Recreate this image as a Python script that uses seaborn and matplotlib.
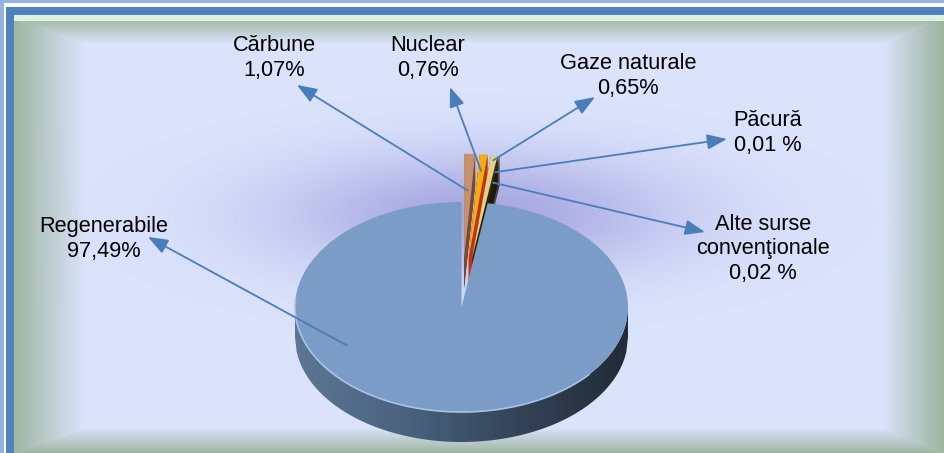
import numpy as np
import matplotlib
matplotlib.use('Agg')
import matplotlib.pyplot as plt
import seaborn as sns
from matplotlib.patches import Polygon

# data
categories = ['Cărbune', 'Nuclear', 'Gaze naturale', 'Păcură',
              'Alte surse\nconvenţionale', 'Regenerabile']
shares = [1.07, 0.76, 0.65, 0.01, 0.02, 97.49]
share_labels = ['1,07%', '0,76%', '0,65%', '0,01 %', '0,02 %', '97,49%']

top_colors = ['#c4906e', '#f2b010', '#e2d088', '#5a4c1c', '#4a4018', '#7a9cc6']
side_colors = ['#7a4a30', '#c8300c', '#2c2610', '#201a08', '#201a08', 'none']
explode = [0.46, 0.46, 0.46, 0.46, 0.46, 0]

sns.set_theme(style='white')
plt.rcParams['font.family'] = ['Liberation Sans', 'DejaVu Sans']

W, H = 945, 453
fig = plt.figure(figsize=(9.45, 4.53), dpi=100)
ax = fig.add_axes([0, 0, 1, 1])

# pie ellipse in pixels: centre and radii, 1 data unit = rx / ry pixels
cx, cy, rx, ry = 461.5, 307, 166.5, 105
x0, x1 = -cx / rx, (W - cx) / rx
y0, y1 = -(H - cy) / ry, cy / ry
depth = 30 / ry


def px(x, y):
    return ((x - cx) / rx, (cy - y) / ry)


# background: frame, bevel and purple glow
yy, xx = np.mgrid[0:H, 0:W] + 0.5
base = np.array([220, 228, 252]) / 255
glow_c = np.array([160, 160, 222]) / 255
edge_c = np.array([158, 182, 162]) / 255
img = np.ones((H, W, 3)) * base
g = np.exp(-((xx - 478) / 200) ** 2 - ((yy - 215) / 62) ** 2)[..., None] * 0.9
img = img * (1 - g) + glow_c * g
t = np.minimum.reduce([np.clip((xx - 14) / 72, 0, 1),
                       np.clip((W - 3 - xx) / 60, 0, 1),
                       np.clip((yy - 18) / 26, 0, 1),
                       np.clip((H - yy) / 26, 0, 1)])[..., None]
img = edge_c * (1 - t) + img * t
img[15:21, 14:] = np.array([222, 242, 226]) / 255
img[:, :14] = np.array([79, 129, 189]) / 255
img[:15, :] = np.array([79, 129, 189]) / 255
img[:, :4] = np.array([148, 180, 224]) / 255
img[:3, :] = np.array([148, 180, 224]) / 255
img[3:7, 4:] = 1.0
img[3:, 4:6] = 1.0
ax.imshow(img, extent=(x0, x1, y0, y1), aspect='auto', zorder=0,
          interpolation='bilinear')

# side walls of the exploded slices
for k in np.linspace(depth, 0, 30)[:-1]:
    ax.pie(shares, explode=explode, startangle=90, counterclock=False,
           colors=side_colors, center=(0, -k), frame=True,
           wedgeprops=dict(linewidth=0))

# side band of the big slice
xs = np.linspace(-1, 1, 200)
arc = -np.sqrt(np.clip(1 - xs ** 2, 0, 1))
band = np.vstack([np.column_stack([xs, arc]),
                  np.column_stack([xs[::-1], arc[::-1] - depth])])
poly = Polygon(band, closed=True, facecolor='none', edgecolor='none')
ax.add_patch(poly)
grad_cols = np.array([[92, 118, 148], [74, 98, 126], [52, 68, 88], [34, 43, 54]]) / 255
pos = np.linspace(0, 1, 256)
grad = np.stack([np.interp(pos, np.linspace(0, 1, 4), grad_cols[:, i]) for i in range(3)], axis=-1)
im = ax.imshow(grad[None, :, :], extent=(-1, 1, -1 - depth, 0), aspect='auto',
               zorder=2, interpolation='bilinear')
im.set_clip_path(poly)

# top faces
wedges, _ = ax.pie(shares, explode=explode, startangle=90, counterclock=False,
                   colors=top_colors, frame=True,
                   wedgeprops=dict(linewidth=0))
for w in wedges:
    w.set_zorder(3)
ang = np.radians(np.linspace(175, 320, 100))
ax.plot(np.cos(ang), np.sin(ang), color='#a8c4e4', lw=1.2, zorder=3.5)

# labels and arrows
label_tips = [(297, 85), (450, 87), (595, 97), (727, 139), (705, 232), (148, 237)]
anchor_r = [0.65, 0.84, 0.95, 0.84, 0.74, 0.78]
anchor_ang = [None, None, None, None, None, 208]
text_pos = [(274, 58), (428, 58), (628, 76), (768, 133), (763, 249), (104, 239)]

for w, cat, lab, tip, r, a, tp in zip(wedges, categories, share_labels, label_tips,
                                      anchor_r, anchor_ang, text_pos):
    theta = np.radians(a if a is not None else (w.theta1 + w.theta2) / 2)
    start = (w.center[0] + r * w.r * np.cos(theta), w.center[1] + r * w.r * np.sin(theta))
    ax.annotate('', xy=px(*tip), xytext=start, zorder=5,
                arrowprops=dict(arrowstyle='-|>,head_length=1.1,head_width=0.42',
                                mutation_scale=11, color='#4a7ebb', lw=1.3,
                                shrinkA=0, shrinkB=0))
    ax.text(*px(*tp), f'{cat}\n{lab}', ha='center', va='center',
            multialignment='center', fontsize=15.7, color='#000000',
            linespacing=1.2, zorder=6)

ax.set_aspect('auto')
ax.set_xlim(x0, x1)
ax.set_ylim(y0, y1)
ax.axis('off')
fig.savefig('out.png', dpi=100)
